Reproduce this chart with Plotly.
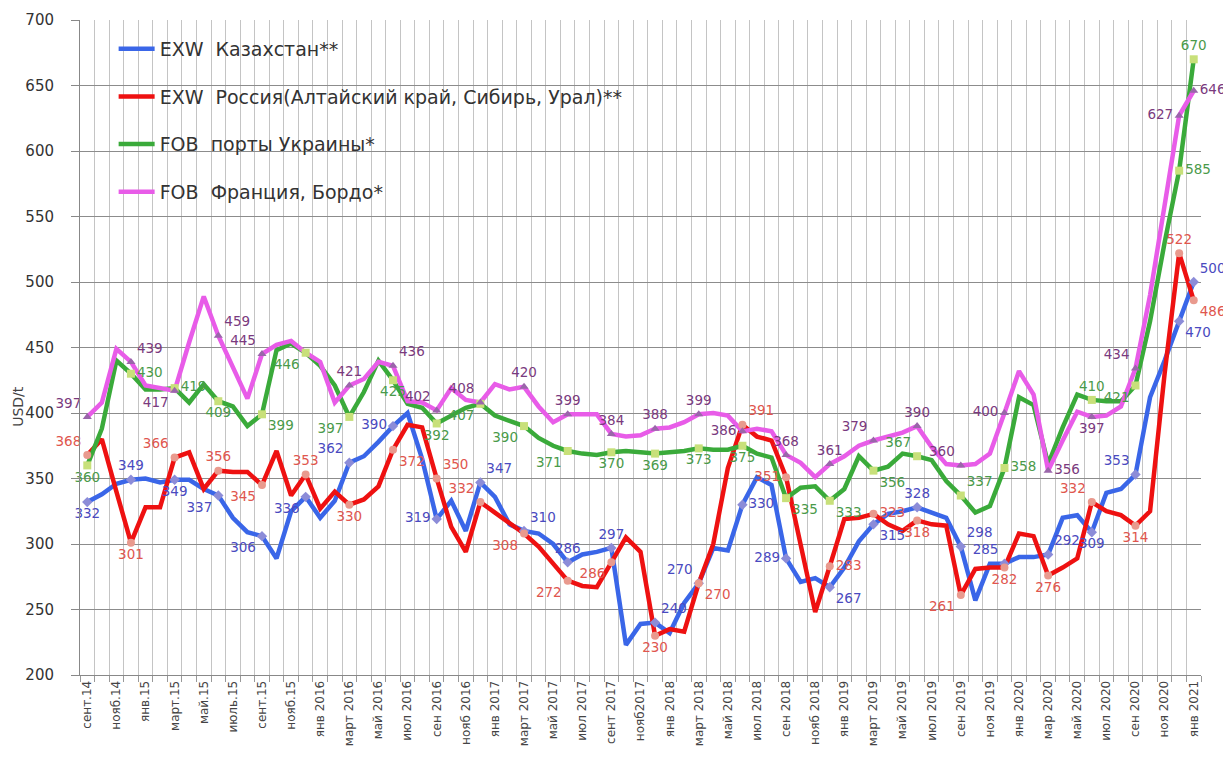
import plotly.graph_objects as go

months = [
    "сент.14", "окт.14", "нояб.14", "дек.14", "янв.15", "фев.15", "март.15", "апр.15",
    "май.15", "июнь.15", "июль.15", "авг.15", "сент.15", "окт.15", "нояб.15", "дек.15",
    "янв 2016", "фев 2016", "март 2016", "апр 2016", "май 2016", "июн 2016", "июл 2016", "авг 2016",
    "сен 2016", "окт 2016", "нояб 2016", "дек 2016", "янв 2017", "фев 2017", "март 2017", "апр 2017",
    "май 2017", "июн 2017", "июл 2017", "авг 2017", "сент 2017", "окт 2017", "нояб2017", "дек 2017",
    "янв 2018", "фев 2018", "март 2018", "апр 2018", "май 2018", "июн 2018", "июл 2018", "авг 2018",
    "сен 2018", "окт 2018", "нояб 2018", "дек 2018", "янв 2019", "фев 2019", "март 2019", "апр 2019",
    "май 2019", "июн 2019", "июл 2019", "авг 2019", "сен 2019", "окт 2019", "ноя 2019", "дек 2019",
    "янв 2020", "фев 2020", "мар 2020", "апр 2020", "май 2020", "июн 2020", "июл 2020", "авг 2020",
    "сен 2020", "окт 2020", "ноя 2020", "дек 2020", "янв 2021",
]
# only every second month is labelled on the axis
tick_text = [m if i % 2 == 0 else "" for i, m in enumerate(months)]

kazakhstan = [332, 338, 346, 349, 350, 347, 349, 349, 342, 337, 320, 309, 306, 289, 325, 336,
              320, 333, 362, 367, 378, 390, 400, 365, 319, 333, 310, 347, 336, 315, 310, 308,
              300, 286, 292, 294, 297, 223, 239, 240, 232, 255, 270, 297, 295, 330, 351, 345,
              289, 271, 274, 267, 282, 302, 315, 323, 325, 328, 324, 320, 298, 257, 285, 285,
              290, 290, 292, 320, 322, 309, 339, 342, 353, 412, 440, 470, 500]
russia = [368, 380, 340, 301, 328, 328, 366, 370, 342, 356, 355, 355, 345, 371, 337, 353,
          327, 340, 330, 334, 344, 372, 391, 389, 350, 313, 294, 332, 324, 316, 308, 298,
          285, 272, 268, 267, 286, 305, 294, 230, 235, 233, 270, 300, 358, 391, 382, 379,
          351, 300, 248, 283, 319, 320, 323, 315, 310, 318, 315, 314, 261, 281, 282, 282,
          308, 306, 276, 282, 289, 332, 325, 322, 314, 325, 430, 522, 486]
ukraine = [360, 388, 440, 430, 418, 418, 419, 408, 422, 409, 405, 390, 399, 448, 453, 446,
           436, 421, 397, 416, 440, 425, 407, 404, 392, 398, 404, 407, 398, 394, 390, 381,
           375, 371, 369, 368, 370, 371, 370, 369, 370, 371, 373, 372, 372, 375, 369, 366,
           335, 343, 344, 333, 342, 367, 356, 359, 369, 367, 364, 348, 337, 324, 329, 358,
           412, 406, 361, 389, 414, 410, 409, 409, 421, 470, 530, 585, 670]
france = [397, 408, 449, 439, 421, 419, 417, 454, 489, 459, 434, 411, 445, 452, 455, 446,
          439, 408, 421, 426, 439, 436, 409, 408, 402, 419, 410, 408, 422, 418, 420, 405,
          393, 399, 399, 399, 384, 382, 383, 388, 389, 393, 399, 400, 398, 386, 388, 386,
          368, 362, 351, 361, 367, 375, 379, 382, 385, 390, 374, 361, 360, 361, 369, 400,
          432, 414, 356, 379, 401, 397, 398, 405, 434, 490, 560, 627, 646]

quarter_idx = list(range(0, 76, 3)) + [76]

kz_pos = ["bottom center", "top center", "bottom center", "bottom left", "bottom left", "bottom left",
          "top left", "middle left", "middle left", "top right", "top right", "top center",
          "top center", "top right", "top left", "middle right", "middle left", "bottom right",
          "bottom right", "top center", "top right", "top left", "top right", "bottom center",
          "top left", "bottom right", "top right"]
ru_pos = ["top left", "bottom center", "top left", "top center", "bottom left", "top center",
          "bottom center", "bottom right", "top right", "top left", "bottom left", "bottom left",
          "bottom left", "bottom center", "bottom right", "top right", "middle left", "middle right",
          "middle right", "bottom center", "bottom left", "bottom center", "bottom center", "top left",
          "bottom center", "top center", "bottom right"]
ua_idx = [i for i in quarter_idx if i != 66]
ua_pos = ["bottom center", "middle right", "middle right", "bottom center", "bottom right",
          "bottom left", "bottom left", "bottom center", "bottom center", "bottom left",
          "bottom left", "bottom left", "bottom center", "bottom center", "bottom center",
          "bottom center", "bottom right", "bottom right", "bottom right", "top left", "top right",
          "middle right", "top center", "bottom left", "middle right", "top center"]
fr_idx = [i for i in quarter_idx if i != 15]
fr_pos = ["top left", "top right", "bottom left", "top right", "top left", "top center",
          "top right", "top left", "top left", "top center", "top center", "top center",
          "top center", "top center", "middle left", "top center", "top center", "top left",
          "top center", "top left", "middle left", "middle right", "bottom center", "top left",
          "middle left", "middle right"]

series = [
    ("EXW  Казахстан**", kazakhstan, "#3a66e8", quarter_idx, kz_pos, "#4a4ac0", "diamond", "#8c8cd8"),
    ("EXW  Россия(Алтайский край, Сибирь, Урал)**", russia, "#ee1111", quarter_idx, ru_pos, "#e0564e", "circle", "#e99a8e"),
    ("FOB  порты Украины*", ukraine, "#3aaa3a", ua_idx, ua_pos, "#4a9a4a", "square", "#c8e07a"),
    ("FOB  Франция, Бордо*", france, "#e85ce8", fr_idx, fr_pos, "#7a3a7e", "triangle-up", "#9a66aa"),
]

FONT = "DejaVu Sans"
fig = go.Figure()
for k, (name, vals, color, idx, pos, tcolor, sym, mcolor) in enumerate(series):
    fig.add_trace(go.Scatter(
        x=months, y=vals, name=name, mode="lines",
        line=dict(color=color, width=4.5), legendgroup=str(k),
    ))
for k, (name, vals, color, idx, pos, tcolor, sym, mcolor) in enumerate(series):
    fig.add_trace(go.Scatter(
        x=[months[i] for i in idx], y=[vals[i] for i in idx],
        mode="markers+text", text=[str(vals[i]) for i in idx], textposition=pos,
        textfont=dict(family=FONT, size=13.5, color=tcolor),
        marker=dict(symbol=sym, size=8, color=mcolor),
        showlegend=False, hoverinfo="skip", cliponaxis=False,
    ))

# the page body has an 8px default margin, so margins are shifted to compensate
fig.update_layout(
    width=1231, height=760,
    margin=dict(l=72, r=38, t=12, b=93),
    paper_bgcolor="white", plot_bgcolor="white",
    font=dict(family=FONT, color="#444"),
    legend=dict(
        x=0.03, y=0.985, xanchor="left", yanchor="top",
        bgcolor="rgba(255,255,255,0)", font=dict(family=FONT, size=19, color="#333"),
        tracegroupgap=20, traceorder="grouped", itemwidth=36,
    ),
    annotations=[dict(
        text="USD/t", textangle=-90, xref="paper", yref="paper",
        x=-0.055, y=0.41, xanchor="center", yanchor="middle", showarrow=False,
        font=dict(family=FONT, size=14, color="#444"),
    )],
)
fig.update_xaxes(
    type="category", categoryorder="array", categoryarray=months,
    tickmode="array", tickvals=months, ticktext=tick_text, tickson="boundaries",
    tickangle=-90, tickfont=dict(family=FONT, size=12, color="#444"),
    showgrid=True, gridcolor="#c4c4c4", gridwidth=1, automargin=False,
    showline=True, linecolor="#888", ticks="outside", ticklen=6, tickcolor="#999",
    range=[-0.5, 76.5],
)
fig.update_yaxes(
    range=[200, 700], dtick=50, tick0=200, automargin=False,
    tickfont=dict(family=FONT, size=15, color="#333"),
    showgrid=True, gridcolor="#8c8c8c", gridwidth=1,
    showline=True, linecolor="#888", ticks="outside", ticklen=8, tickcolor="#888",
    ticklabelstandoff=14, zeroline=False,
)

fig.write_html("out.html")
